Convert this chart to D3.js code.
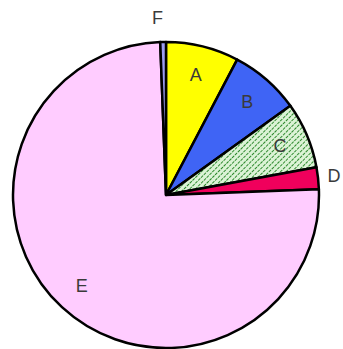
<!DOCTYPE html>
<html>
<head>
<meta charset="utf-8">
<script src="https://cdn.jsdelivr.net/npm/d3@7"></script>
<style>
  html, body { margin: 0; padding: 0; background: #fff; }
  svg { display: block; }
</style>
</head>
<body>
<div id="chart"></div>
<script>
// pie slices, clockwise from 12 o'clock
var categories = ['A', 'B', 'C', 'D', 'E', 'F'];
var values = [7.7, 7.4, 7.0, 2.3, 75.0, 0.6];
var colors = ['#ffff00', '#3f64f5', 'url(#hatch)', '#f0005c', '#ffccff', '#9c9cf0'];

var svg_size = { 'width': 343, 'height': 349 };
var center = { 'x': 166, 'y': 195 };
var radius = 153;

var svg = d3.select('#chart')
    .append('svg')
    .attr('width', svg_size.width)
    .attr('height', svg_size.height);

// hatch for slice C
var pattern = svg.append('defs')
    .append('pattern')
    .attr('id', 'hatch')
    .attr('patternUnits', 'userSpaceOnUse')
    .attr('width', 4)
    .attr('height', 4)
    .attr('patternTransform', 'rotate(45)');
pattern.append('rect')
    .attr('width', 4)
    .attr('height', 4)
    .style('fill', '#dcf3d6');
pattern.append('line')
    .attr('x1', 0).attr('y1', 0)
    .attr('x2', 0).attr('y2', 4)
    .style('stroke', '#2f8a2f')
    .style('stroke-width', 2)
    .style('stroke-dasharray', '3,1');

var slices = categories.map(function(d, i){
    return { 'name': d, 'value': values[i], 'color': colors[i] };
});

var pie = d3.pie()
    .sort(null)
    .value(function(d){ return d.value; });

var arc = d3.arc()
    .innerRadius(0)
    .outerRadius(radius);

var pie_group = svg.append('g')
    .attr('transform', 'translate(' + center.x + ',' + center.y + ')');

pie_group.selectAll('.slice')
    .data(pie(slices))
    .enter()
    .append('path')
    .classed('slice', true)
    .attr('d', arc)
    .style('fill', function(d){ return d.data.color; })
    .style('stroke', '#000')
    .style('stroke-width', 2.5)
    .style('stroke-linejoin', 'round');

// labels: inside for big slices, just outside for thin ones
pie_group.selectAll('.label')
    .data(pie(slices))
    .enter()
    .append('text')
    .classed('label', true)
    .attr('transform', function(d){
        var a = (d.startAngle + d.endAngle) / 2;
        var r = d.data.value < 3 ? radius + 16 : radius * 0.81;
        if (d.data.value < 1) { a = d.startAngle - 0.01; r = radius + 24; }
        return 'translate(' + (Math.sin(a) * r) + ',' + (-Math.cos(a) * r) + ')';
    })
    .attr('text-anchor', 'middle')
    .attr('dominant-baseline', 'central')
    .style('font-family', 'Liberation Sans, Arial, sans-serif')
    .style('font-size', '18px')
    .style('fill', '#3a3a3a')
    .text(function(d){ return d.data.name; });
</script>
</body>
</html>
